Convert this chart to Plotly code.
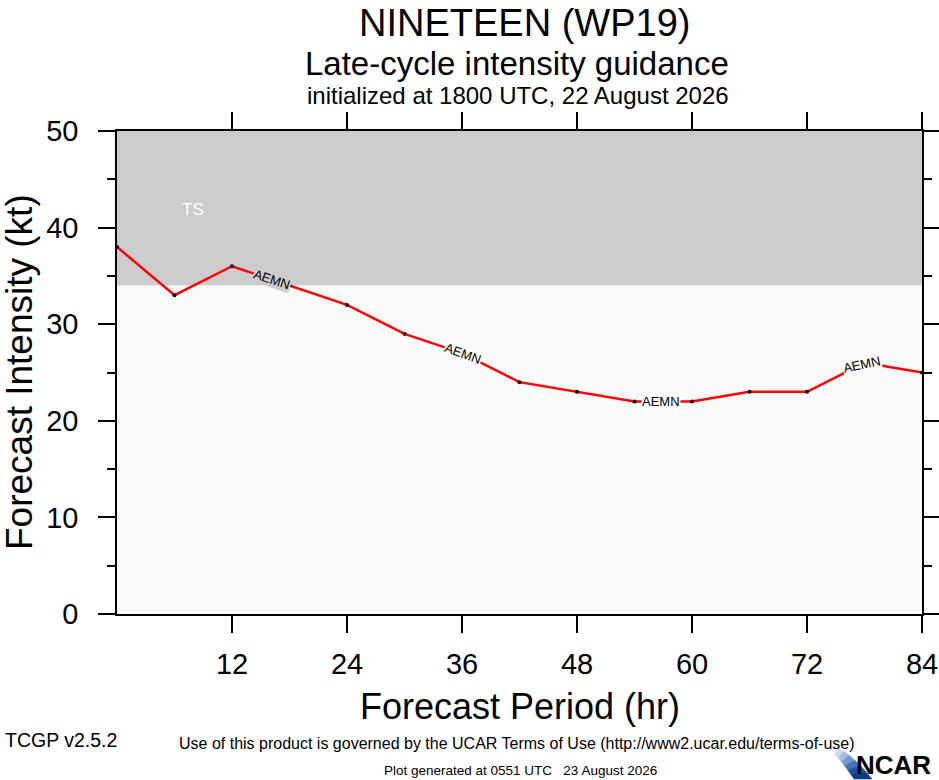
import numpy as np
import plotly.graph_objects as go

# forecast hours and AEMN intensity (kt)
hours = [0, 6, 12, 18, 24, 30, 36, 42, 48, 54, 60, 66, 72, 78, 84]
aemn = [38, 33, 36, 34, 32, 29, 27, 24, 23, 22, 22, 23, 23, 26, 25]

# where the model id is written along the line
label_hours = [16.2, 36.1, 56.8, 77.7]
label_angles = [18.6, 20, 0, -12]

x_ticks = [12, 24, 36, 48, 60, 72, 84]
ts_threshold = 34

# plot area in pixels, used to place page texts
L, R, T, B = 117, 922, 131, 614
W, H = 939, 780


def px(x):
    return (x - L) / (R - L)


def py(y):
    return (B - y) / (B - T)


FONT = "Liberation Sans, Arial, sans-serif"

fig = go.Figure()

fig.add_trace(go.Scatter(
    x=hours, y=aemn, mode="lines+markers",
    line=dict(color="red", width=2.5),
    marker=dict(color="black", size=4),
    hoverinfo="x+y", showlegend=False,
))

# intensity bands
fig.add_shape(type="rect", xref="x", yref="y", x0=0, x1=84, y0=ts_threshold, y1=50,
              fillcolor="#cccccc", line_width=0, layer="below")
fig.add_shape(type="rect", xref="x", yref="y", x0=0, x1=84, y0=0, y1=ts_threshold,
              fillcolor="#fafafa", line_width=0, layer="below")

annotations = []
annotations.append(dict(x=7.9, y=41.9, xref="x", yref="y", text="TS", showarrow=False,
                        font=dict(family=FONT, size=17, color="white")))

for h, a in zip(label_hours, label_angles):
    yv = float(np.interp(h, hours, aemn))
    bg = "#cccccc" if yv > ts_threshold else "#fafafa"
    annotations.append(dict(x=h, y=yv, xref="x", yref="y", text="AEMN", showarrow=False,
                            textangle=a, bgcolor=bg, borderpad=0,
                            font=dict(family=FONT, size=13, color="black")))


def page_text(text, x, y, size, xanchor="center", color="black"):
    annotations.append(dict(x=px(x), y=py(y), xref="paper", yref="paper", text=text,
                            showarrow=False, xanchor=xanchor, yanchor="middle",
                            font=dict(family=FONT, size=size, color=color)))


page_text("NINETEEN (WP19)", 524, 23, 38)
page_text("Late-cycle intensity guidance", 517, 63, 33)
page_text("initialized at 1800 UTC, 22 August 2026", 518, 95, 24)
page_text("Forecast Period (hr)", 520, 706, 36)
page_text("Use of this product is governed by the UCAR Terms of Use (http://www2.ucar.edu/terms-of-use)",
          517, 743, 16)
page_text("TCGP v2.5.2", 3, 740, 19.5, xanchor="left")
page_text("Plot generated at 0551 UTC   23 August 2026", 520, 770, 13.5)

annotations.append(dict(x=px(19), y=py(372), xref="paper", yref="paper",
                        text="Forecast Intensity (kt)", textangle=-90, showarrow=False,
                        xanchor="center", yanchor="middle",
                        font=dict(family=FONT, size=37, color="black")))

annotations.append(dict(x=px(933), y=py(765), xref="paper", yref="paper", text="<b>NCAR</b>",
                        showarrow=False, xanchor="right", yanchor="middle",
                        font=dict(family="Liberation Sans Narrow, " + FONT, size=26, color="black")))

# NCAR swoosh, drawn as a few bands going from pale to dark blue
blues = ["#f0f5fb", "#cfdcef", "#a6bfe3", "#7398d0", "#4272b8", "#1d4f9c", "#0a3b86"]
n = len(blues)
for i, c in enumerate(blues):
    t0, t1 = i / n, (i + 1) / n
    ts = np.linspace(t0, t1, 4)
    top = [(832 + 40 * t, 746 + 33 * t ** 1.5) for t in ts]
    bot = [(832 + 22 * t, 752 + 27 * t ** 1.2) for t in ts]
    pts = top + bot[::-1]
    path = "M " + " L ".join(f"{px(a):.4f},{py(b):.4f}" for a, b in pts) + " Z"
    fig.add_shape(type="path", xref="paper", yref="paper", path=path,
                  fillcolor=c, line=dict(color=c, width=0.5))

axis_common = dict(
    showline=True, linecolor="black", linewidth=1.5, mirror="ticks",
    ticks="outside", ticklen=17, tickwidth=1.5, tickcolor="black",
    showgrid=False, zeroline=False, automargin=False,
    tickfont=dict(family=FONT, size=29, color="black"),
)

fig.update_xaxes(range=[0, 84], tickvals=x_ticks, ticklabelstandoff=6, **axis_common)
fig.update_yaxes(range=[0, 50], dtick=10, ticklabelstandoff=14,
                 minor=dict(dtick=5, ticks="outside", ticklen=8, tickwidth=1.5, tickcolor="black"),
                 **axis_common)

fig.update_layout(
    width=W, height=H,
    margin=dict(l=L, r=W - R, t=T, b=H - B, pad=0),
    paper_bgcolor="white", plot_bgcolor="#fafafa",
    annotations=annotations,
    font=dict(family=FONT),
)

# the page's default body margin would push the 939x780 figure past the window
fig.write_html("out.html", config={"displayModeBar": False},
               post_script="document.body.style.margin='0';document.body.style.overflow='hidden';")
